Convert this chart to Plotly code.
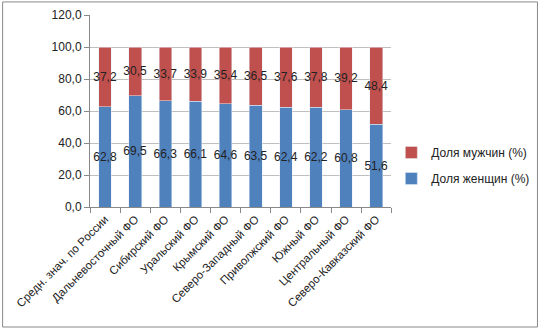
import plotly.graph_objects as go

categories = ["Средн. знач. по России", "Дальневосточный ФО", "Сибирский ФО", "Уральский ФО",
              "Крымский ФО", "Северо-Западный ФО", "Приволжский ФО", "Южный ФО",
              "Центральный ФО", "Северо-Кавказский ФО"]
women = [62.8, 69.5, 66.3, 66.1, 64.6, 63.5, 62.4, 62.2, 60.8, 51.6]
men = [37.2, 30.5, 33.7, 33.9, 35.4, 36.5, 37.6, 37.8, 39.2, 48.4]

def fmt(v):
    return f"{v:.1f}".replace(".", ",")

fam = "Liberation Sans, Arial, sans-serif"
font = dict(family=fam, size=12, color="#222222")

fig = go.Figure()
fig.add_trace(go.Bar(x=categories, y=women, name="Доля женщин (%)", marker_color="#4F81BD",
                     legendgroup="w", legendrank=2,
                     text=[fmt(v) for v in women], textposition="inside", textangle=0,
                     insidetextanchor="middle", textfont=dict(family=fam, size=12, color="#222222"),
                     constraintext="none", cliponaxis=False))
fig.add_trace(go.Bar(x=categories, y=men, name="Доля мужчин (%)", marker_color="#C0504D",
                     legendgroup="m", legendrank=1,
                     text=[fmt(v) for v in men], textposition="inside", textangle=0,
                     insidetextanchor="middle", textfont=dict(family=fam, size=12, color="#222222"),
                     constraintext="none", cliponaxis=False))

fig.update_layout(
    width=542, height=329,
    barmode="stack", bargap=0.58,
    separators=", ",
    font=font,
    paper_bgcolor="white", plot_bgcolor="white",
    margin=dict(l=90, r=149, t=15, b=122),
    uniformtext=dict(mode=False),
    legend=dict(xref="container", yref="container", x=0.722, y=0.497, xanchor="left", yanchor="middle",
                traceorder="grouped", font=dict(size=12, color="#222222"),
                itemwidth=30, tracegroupgap=7),
    shapes=[dict(type="rect", xref="paper", yref="paper", x0=-0.29, x1=1.485, y0=-0.625, y1=1.068,
                 line=dict(color="#888888", width=1))],
)
fig.update_yaxes(range=[0, 120], dtick=20, tickformat=".1f", showgrid=True, gridcolor="#BFBFBF",
                 showline=True, linecolor="#888888", ticks="outside", tickcolor="#888888", ticklen=5,
                 zeroline=False, automargin=False)
fig.update_xaxes(tickangle=-45, showline=True, linecolor="#888888", ticks="outside",
                 tickson="boundaries", tickcolor="#888888", ticklen=5, automargin=False,
                 tickfont=dict(size=11.5))

fig.write_html("out.html", config={"displayModeBar": False},
               post_script="document.body.style.margin='0';document.body.style.overflow='hidden';")
